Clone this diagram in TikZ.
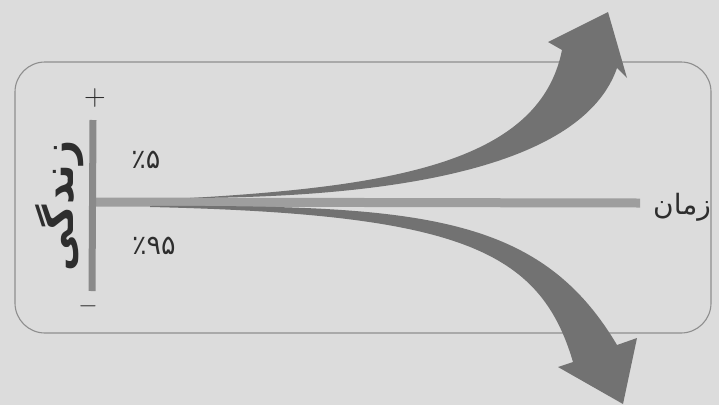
\documentclass[tikz,border=0pt]{standalone}
\usepackage{fontspec}
\TeXXeTstate=1
\newfontfamily\arabicfont[Script=Arabic]{DejaVu Sans}
\definecolor{page}{HTML}{DCDCDC}
\definecolor{boxline}{HTML}{8E8E8E}
\definecolor{bargray}{HTML}{8A8A8A}
\definecolor{stemgray}{HTML}{9E9E9E}
\definecolor{arrowgray}{HTML}{727272}
\definecolor{ink}{HTML}{2E2E2E}
\begin{document}
\begin{tikzpicture}[x=1pt,y=-1pt,
  arrowfill/.style={fill=arrowgray,draw=none},
  txt/.style={text=ink,inner sep=0pt},
  sign/.style={txt,font=\fontsize{30}{30}\selectfont}]
\useasboundingbox[fill=page] (0,0) rectangle (719,405);
\draw[boxline,line width=1.1pt,rounded corners=30pt] (15,62) rectangle (711,333);
\coordinate (bartop) at (93,120);
\coordinate (barbot) at (92,291);
\coordinate (stemstart) at (96,202);
\coordinate (stemend) at (640,203);
\draw[stemgray,line width=9pt] (stemstart) -- (stemend);
\fill[arrowfill] (190,198) .. controls (400,186) and (540,160) .. (562,50)
  -- (548,42) -- (608,12) -- (627,78) -- (617,68)
  .. controls (585,160) and (420,197) .. (190,198) -- cycle;
\fill[arrowfill] (150,206) .. controls (420,205) and (540,215) .. (617,345)
  -- (637,338) -- (623,404) -- (558,367) -- (573,362)
  .. controls (540,250) and (460,214) .. (150,207) -- cycle;
\draw[bargray,line width=7pt] (bartop) -- (barbot);
\node[sign] (plus) at (95,98) {+};
\node[sign] (minus) at (88,306) {$-$};
\node[txt,font=\arabicfont\fontsize{27}{27}\selectfont] (five) at (146,160) {٪۵};
\node[txt,font=\arabicfont\fontsize{27}{27}\selectfont] (ninetyfive) at (154,246) {٪۹۵};
\node[txt,font=\arabicfont\fontsize{28}{28}\selectfont] (time) at (682,207) {\beginR زمان\endR};
\node[txt,rotate=90,font=\arabicfont\bfseries\fontsize{42}{42}\selectfont] (life) at (60,206) {\beginR زندگی\endR};
\end{tikzpicture}
\end{document}
